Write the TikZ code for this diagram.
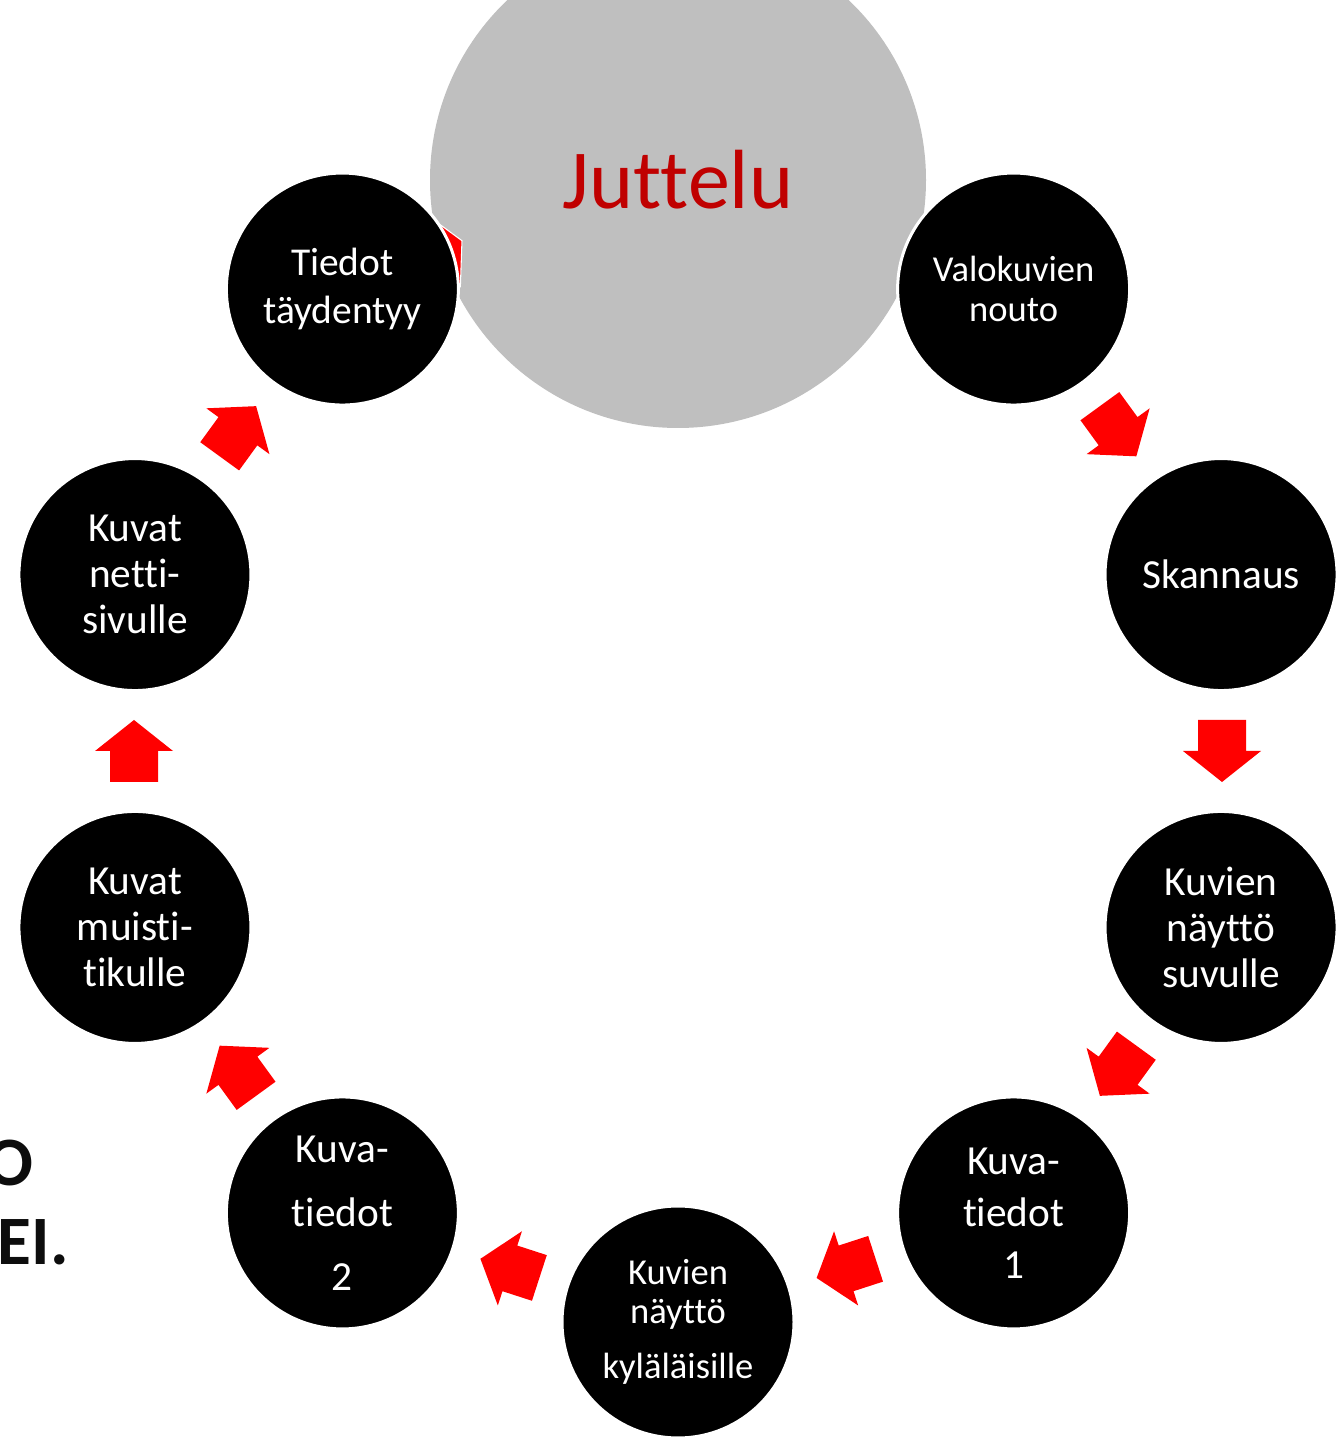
\documentclass[tikz,border=0pt]{standalone}
\usepackage{fontspec}
\setmainfont{Carlito}[Ligatures=NoCommon]
\usepackage{tikz}
\definecolor{ffqqqq}{rgb}{1.,0.,0.}
\definecolor{ccqqqq}{rgb}{0.7529,0.,0.}
\definecolor{bfbfbf}{rgb}{0.749,0.749,0.749}
\definecolor{qqqqqq}{rgb}{0.05,0.05,0.05}
\tikzset{
  stepnode/.style={circle,fill=black,draw=white,line width=2.25pt,minimum size=174pt,inner sep=0pt,
    text=white,align=center,font=\fontsize{31}{34.5}\selectfont},
  talknode/.style={circle,fill=bfbfbf,minimum size=372pt,inner sep=0pt,
    text=ccqqqq,font=\fontsize{63}{70}\selectfont},
  backtext/.style={anchor=base east,inner sep=0pt,text=qqqqqq,font=\fontsize{52}{60}\selectfont\bfseries}
}
% block arrow on the cycle, #1 = angle seen from the cycle centre
\newcommand{\cyclearrow}[1]{%
  \fill[ffqqqq,shift={(cyc)},rotate=#1] (520,31) -- (568,31) -- (568,0) -- (583,0) -- (544,-31) -- (505,0) -- (520,0) -- cycle;}

\begin{document}
\begin{tikzpicture}[line cap=round,line join=round,x=0.75pt,y=0.75pt]
  \useasboundingbox (0,0) rectangle (1337,1440);
  \clip (0,0) rectangle (1337,1440);
  \coordinate (cyc) at (678,689);
  \coordinate (ptaydent) at ([shift={(126:571)}]cyc);
  % text of the slide behind
  \node[backtext] (osa) at (34,254) {O};
  \node[backtext] (ei) at (69,175) {EI.};
  % centre of the talk
  \node[talknode] (juttelu) at ([shift={(90:571)}]cyc) {Juttelu};
  % the arrow hidden behind the circles, only a sliver shows
  \fill[ffqqqq,draw=white,line width=0.8pt] ([shift={(38:114)}]ptaydent) -- ([shift={(22:129)}]ptaydent)
    -- ([shift={(1:118)}]ptaydent) -- ([shift={(10:112)}]ptaydent) -- cycle;
  % steps
  \node[stepnode,font=\fontsize{27.4}{30}\selectfont] (valo) at ([shift={(54:571)}]cyc) {Valokuvien\\nouto};
  \node[stepnode] (skann) at ([shift={(18:571)}]cyc) {Skannaus};
  \node[stepnode] (suku) at ([shift={(-18:571)}]cyc) {Kuvien\\näyttö\\suvulle};
  \node[stepnode,font=\fontsize{31}{39}\selectfont] (tiedot1) at ([shift={(-54:571)}]cyc) {Kuva-\\tiedot\\1};
  \node[stepnode,font=\fontsize{27.4}{29}\selectfont] (kyla) at ([shift={(-90:571)}]cyc) {Kuvien\\näyttö\\[12pt]kyläläisille};
  \node[stepnode,font=\fontsize{31}{48}\selectfont] (tiedot2) at ([shift={(-126:571)}]cyc) {Kuva-\\tiedot\\2};
  \node[stepnode] (tikku) at ([shift={(-162:571)}]cyc) {Kuvat\\muisti-\\tikulle};
  \node[stepnode] (netti) at ([shift={(162:571)}]cyc) {Kuvat\\netti-\\sivulle};
  \node[stepnode,font=\fontsize{29.6}{36}\selectfont] (taydent) at (ptaydent) {Tiedot\\täydentyy};
  % arrows between the steps
  \foreach \a in {36,0,-36,-72,-108,-144,180,144}
    \cyclearrow{\a};
\end{tikzpicture}
\end{document}
